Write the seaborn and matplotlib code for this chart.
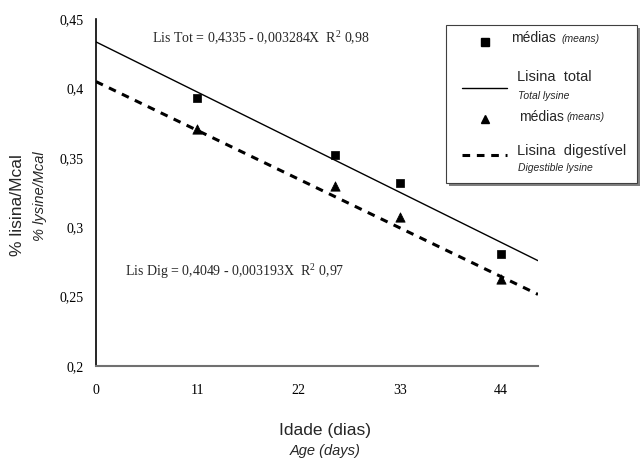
import matplotlib
matplotlib.use("Agg")
import matplotlib.pyplot as plt
from matplotlib.lines import Line2D
from matplotlib.patches import Rectangle
import pandas as pd
import seaborn as sns

# mean values
ages = [11, 26, 33, 44]
total_means = [0.393, 0.352, 0.332, 0.281]
dig_means = [0.371, 0.330, 0.307, 0.263]

# fitted lines, end points
line_x = [0, 48]
total_fit = [0.4335, 0.2759]
dig_fit = [0.4049, 0.2516]

x_ticks = [0, 11, 22, 33, 44]
y_ticks = [0.2, 0.25, 0.3, 0.35, 0.4, 0.45]
y_tick_labels = ["0,2", "0,25", "0,3", "0,35", "0,4", "0,45"]

sns.set_style("white")
plt.rcParams["font.family"] = ["Liberation Sans", "DejaVu Sans"]
plt.rcParams["mathtext.fontset"] = "custom"
plt.rcParams["mathtext.rm"] = "Liberation Serif"

means = pd.DataFrame({"age": ages, "tot": total_means, "dig": dig_means})
fits = pd.DataFrame({"age": line_x, "tot": total_fit, "dig": dig_fit})

fig = plt.figure(figsize=(6.4, 4.59), dpi=100)
ax = fig.add_axes([0.15, 0.2026, 0.6906, 0.756])

sns.lineplot(data=fits, x="age", y="tot", ax=ax, color="black", linewidth=1.0)
sns.lineplot(data=fits, x="age", y="dig", ax=ax, color="black", linewidth=2.2,
             linestyle=(0, (2.5, 2.2)))
sns.scatterplot(data=means, x="age", y="tot", ax=ax, marker="s", s=40,
                color="black", edgecolor="black", zorder=5)
sns.scatterplot(data=means, x="age", y="dig", ax=ax, marker="^", s=45,
                color="black", edgecolor="black", zorder=5)

ax.set_xlim(0, 48)
ax.set_ylim(0.2, 0.45)
ax.set_xticks(x_ticks)
ax.set_xticklabels([str(t) for t in x_ticks], family="Liberation Serif", fontsize=10)
ax.set_yticks(y_ticks)
ax.set_yticklabels(y_tick_labels, family="Liberation Serif", fontsize=10)
ax.tick_params(direction="inout", length=8, width=1, colors="black", pad=5)
ax.tick_params(axis="x", pad=9)
ax.set_xlabel("")
ax.set_ylabel("")
for side in ("top", "right"):
    ax.spines[side].set_visible(False)
ax.spines["left"].set_color("black")
ax.spines["left"].set_linewidth(1.2)
ax.spines["bottom"].set_color("#707070")
ax.spines["bottom"].set_linewidth(1.5)

serif = "Liberation Serif"
ax.text(6.1, 0.4365, r"Lis Tot = 0,4335 - 0,003284X  R$^\mathrm{2}$ 0,98", family=serif,
        fontsize=10, va="center")
ax.text(3.2, 0.2685, r"Lis Dig = 0,4049 - 0,003193X  R$^\mathrm{2}$ 0,97", family=serif,
        fontsize=10, va="center")

# axis titles
fig.text(325 / 640, 1 - 430 / 459, "Idade (dias)", ha="center", va="center", fontsize=12.5)
fig.text(325 / 640, 1 - 451 / 459, "Age (days)", ha="center", va="center",
         fontsize=10.5, style="italic")
fig.text(18 / 640, 1 - 205 / 459, "% lisina/Mcal", ha="center", va="center",
         fontsize=12.5, rotation=90)
fig.text(40 / 640, 1 - 196 / 459, "% lysine/Mcal", ha="center", va="center",
         fontsize=10.5, rotation=90, style="italic")


# legend box, drawn in pixel positions of the figure
def fx(px):
    return px / 640


def fy(py):
    return 1 - py / 459


fig.add_artist(Rectangle((fx(449), fy(186)), fx(640) - fx(449), fy(28) - fy(186),
                         transform=fig.transFigure, facecolor="#808080",
                         edgecolor="none", zorder=1))
fig.add_artist(Rectangle((fx(446), fy(183)), fx(637) - fx(446), fy(25) - fy(183),
                         transform=fig.transFigure, facecolor="white",
                         edgecolor="#404040", linewidth=0.8, zorder=2))

fig.add_artist(Line2D([fx(485)], [fy(42)], marker="s", markersize=6,
                      color="black", transform=fig.transFigure, zorder=3))
fig.text(fx(511), fy(38), "médias", fontsize=10, va="center", zorder=3)
fig.text(fx(562), fy(39), "(means)", fontsize=7.5, style="italic", va="center", zorder=3)

fig.add_artist(Line2D([fx(462), fx(507)], [fy(88), fy(88)], color="black",
                      linewidth=1.0, transform=fig.transFigure, zorder=3))
fig.text(fx(517), fy(77), "Lisina  total", fontsize=10.5, va="center", zorder=3)
fig.text(fx(518), fy(96), "Total lysine", fontsize=7.5, style="italic", va="center", zorder=3)

fig.add_artist(Line2D([fx(485)], [fy(119)], marker="^", markersize=6,
                      color="black", transform=fig.transFigure, zorder=3))
fig.text(fx(519), fy(117), "médias", fontsize=10, va="center", zorder=3)
fig.text(fx(567), fy(117), "(means)", fontsize=7.5, style="italic", va="center", zorder=3)

fig.add_artist(Line2D([fx(462), fx(507)], [fy(155), fy(155)], color="black",
                      linewidth=2.2, linestyle=(0, (2.5, 2.2)),
                      transform=fig.transFigure, zorder=3))
fig.text(fx(517), fy(151), "Lisina  digestível", fontsize=10.5, va="center", zorder=3)
fig.text(fx(518), fy(168), "Digestible lysine", fontsize=7.5, style="italic", va="center", zorder=3)

fig.savefig("out.png", dpi=100)
plt.close(fig)
